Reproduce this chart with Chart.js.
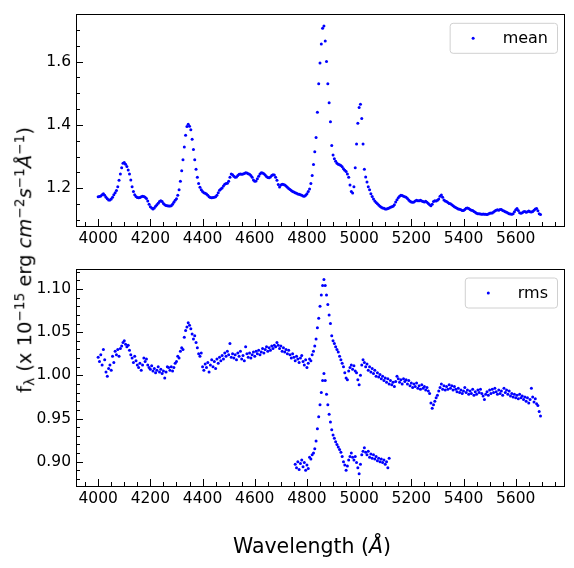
<!DOCTYPE html>
<html>
<head>
<meta charset="utf-8">
<script src="https://cdn.jsdelivr.net/npm/chart.js@4.4.1/dist/chart.umd.min.js"></script>
<style>
  body { margin: 0; background: #fff; font-family: "DejaVu Sans", sans-serif; }
  #wrap { position: relative; width: 574px; height: 568px; }
  canvas { position: absolute; left: 0; }
  #ylab { position: absolute; left: 25px; top: 260px; transform: translate(-50%, -50%) rotate(-90deg);
          white-space: nowrap; font-size: 19.5px; line-height: 1; }
  #xlab { position: absolute; left: 312px; top: 546px; transform: translate(-50%, -50%);
          white-space: nowrap; font-size: 20.5px; line-height: 1; }
  sub, sup { font-size: 70%; line-height: 0; }
  sup { vertical-align: 0.55em; }
  sub { vertical-align: -0.25em; }
</style>
</head>
<body>
<div id="wrap">
  <canvas id="meanChart" width="574" height="250" style="top:0"></canvas>
  <canvas id="rmsChart" width="574" height="318" style="top:250px"></canvas>
  <div id="ylab">f<sub>λ</sub> (x 10<sup>−15</sup> erg <i>cm</i><sup>−2</sup><i>s</i><sup>−1</sup><i>Å</i><sup>−1</sup>)</div>
  <div id="xlab">Wavelength (<i>Å</i>)</div>
</div>
<script>
// wavelength grid of the readings (Angstrom)
const waveStart = 4000;
const waveStep = 5;

// mean spectrum, 4000..5695
const meanFlux = [
  1.173,1.174,1.176,1.180,1.183,1.178,1.172,1.167,1.163,1.163,
  1.166,1.172,1.180,1.186,1.193,1.205,1.225,1.245,1.265,1.279,
  1.281,1.276,1.269,1.258,1.245,1.226,1.205,1.190,1.180,1.174,
  1.171,1.170,1.171,1.173,1.175,1.174,1.172,1.168,1.160,1.150,
  1.142,1.138,1.135,1.138,1.143,1.148,1.153,1.158,1.161,1.158,
  1.152,1.148,1.146,1.145,1.144,1.144,1.145,1.150,1.156,1.162,
  1.167,1.178,1.195,1.222,1.255,1.290,1.330,1.367,1.395,1.402,
  1.396,1.385,1.355,1.322,1.290,1.260,1.235,1.215,1.203,1.195,
  1.190,1.186,1.184,1.182,1.178,1.173,1.171,1.170,1.171,1.172,
  1.173,1.178,1.186,1.194,1.198,1.201,1.207,1.213,1.215,1.216,
  1.222,1.235,1.245,1.243,1.238,1.235,1.236,1.240,1.244,1.245,
  1.244,1.245,1.247,1.249,1.248,1.246,1.244,1.240,1.235,1.226,
  1.222,1.223,1.230,1.238,1.245,1.249,1.248,1.246,1.242,1.237,
  1.234,1.233,1.236,1.240,1.243,1.242,1.235,1.225,1.212,1.204,
  1.210,1.213,1.212,1.210,1.207,1.203,1.199,1.196,1.193,1.190,
  1.188,1.186,1.184,1.182,1.181,1.180,1.178,1.176,1.175,1.178,
  1.183,1.190,1.198,1.215,1.240,1.275,1.315,1.360,1.440,1.530,
  1.595,1.655,1.705,1.712,1.665,1.600,1.530,1.470,1.410,1.335,
  1.305,1.293,1.285,1.279,1.276,1.274,1.272,1.268,1.262,1.257,
  1.253,1.245,1.235,1.210,1.190,1.185,1.205,1.265,1.340,1.405,
  1.455,1.465,1.420,1.340,1.260,1.236,1.220,1.205,1.195,1.183,
  1.174,1.166,1.160,1.155,1.151,1.147,1.143,1.140,1.138,1.137,
  1.135,1.135,1.136,1.138,1.140,1.142,1.143,1.148,1.157,1.164,
  1.170,1.175,1.178,1.177,1.175,1.173,1.172,1.168,1.163,1.159,
  1.157,1.156,1.157,1.160,1.162,1.161,1.161,1.162,1.160,1.158,
  1.157,1.159,1.156,1.152,1.148,1.145,1.150,1.158,1.161,1.160,
  1.162,1.166,1.175,1.179,1.172,1.163,1.160,1.158,1.155,1.152,
  1.151,1.148,1.145,1.142,1.139,1.137,1.135,1.134,1.132,1.130,
  1.130,1.133,1.137,1.138,1.136,1.133,1.131,1.130,1.127,1.124,
  1.121,1.120,1.120,1.119,1.118,1.119,1.118,1.118,1.117,1.119,
  1.121,1.122,1.122,1.125,1.128,1.131,1.132,1.131,1.133,1.133,
  1.130,1.128,1.126,1.124,1.122,1.120,1.119,1.118,1.120,1.126,
  1.132,1.136,1.130,1.123,1.121,1.123,1.126,1.127,1.124,1.126,
  1.128,1.126,1.125,1.127,1.131,1.135,1.136,1.129,1.120,1.117
];

// rms spectrum, 4000..5695
const rmsFlux = [
  1.021,1.016,1.024,1.012,1.030,1.018,1.004,0.999,1.008,1.012,
  1.006,1.022,1.015,1.028,1.024,1.030,1.022,1.031,1.034,1.038,
  1.040,1.036,1.033,1.035,1.029,1.024,1.020,1.015,1.022,1.017,
  1.012,1.009,1.014,1.006,1.012,1.020,1.016,1.019,1.012,1.009,
  1.007,1.011,1.005,1.008,1.003,1.006,1.010,1.004,1.007,1.002,
  1.005,0.997,1.004,1.010,1.009,1.006,1.010,1.005,1.009,1.014,
  1.016,1.022,1.020,1.028,1.032,1.030,1.044,1.052,1.056,1.061,
  1.058,1.054,1.048,1.042,1.046,1.038,1.032,1.025,1.022,1.026,
  1.010,1.006,1.013,1.009,1.015,1.004,1.012,1.018,1.010,1.016,
  1.008,1.019,1.014,1.021,1.017,1.023,1.019,1.026,1.022,1.028,
  1.024,1.037,1.021,1.025,1.020,1.024,1.018,1.026,1.022,1.028,
  1.019,1.023,1.017,1.033,1.025,1.021,1.026,1.020,1.024,1.027,
  1.022,1.028,1.025,1.029,1.024,1.027,1.031,1.026,1.030,1.033,
  1.028,1.032,1.029,1.034,1.031,1.035,1.033,1.038,1.035,1.031,
  1.034,1.028,1.032,1.027,1.030,1.025,1.029,1.024,1.020,1.025,
  1.021,1.017,1.022,1.019,1.015,1.020,1.023,1.016,1.012,1.018,
  1.009,1.014,1.019,1.017,1.024,1.028,1.034,1.042,1.055,1.066,
  1.080,1.093,1.104,1.111,1.104,1.093,1.082,1.070,1.060,1.046,
  1.040,1.037,1.033,1.030,1.027,1.022,1.018,1.014,1.010,1.003,
  0.997,0.995,1.005,1.009,1.012,1.007,1.011,1.005,1.003,0.995,
  0.989,1.000,1.012,1.018,1.015,1.010,1.013,1.006,1.010,1.004,
  1.008,1.002,1.006,0.999,1.003,0.998,1.001,0.996,0.999,0.994,
  0.997,0.992,0.996,0.990,0.994,0.989,0.992,0.987,0.993,0.999,
  0.996,0.992,0.995,0.990,0.996,0.993,0.995,0.990,0.994,0.988,
  0.991,0.986,0.990,0.987,0.991,0.985,0.988,0.984,0.989,0.985,
  0.987,0.983,0.986,0.982,0.979,0.968,0.962,0.966,0.970,0.974,
  0.977,0.982,0.986,0.990,0.984,0.988,0.983,0.987,0.984,0.989,
  0.985,0.988,0.983,0.987,0.984,0.981,0.985,0.980,0.983,0.979,
  0.982,0.986,0.980,0.983,0.978,0.982,0.979,0.984,0.977,0.981,
  0.978,0.983,0.980,0.984,0.979,0.976,0.972,0.978,0.981,0.977,
  0.983,0.979,0.984,0.980,0.985,0.981,0.978,0.983,0.979,0.982,
  0.977,0.985,0.980,0.983,0.978,0.982,0.976,0.979,0.975,0.978,
  0.974,0.977,0.973,0.978,0.974,0.976,0.972,0.975,0.970,0.974,
  0.968,0.972,0.985,0.975,0.969,0.973,0.967,0.965,0.958,0.953
];

// lower rms segment, 4755..5115
const rmsLowStart = 4755;
const rmsLowFlux = [
  0.897,0.893,0.900,0.891,0.898,0.902,0.894,0.899,0.890,
  0.896,0.892,0.905,0.903,0.908,0.910,0.915,0.924,0.938,0.952,
  0.966,0.980,0.994,1.002,0.994,0.978,0.966,0.955,0.946,0.937,
  0.931,0.927,0.923,0.920,0.917,0.914,0.911,0.906,0.900,0.896,
  0.890,0.895,0.902,0.906,0.910,0.905,0.902,0.906,0.899,0.893,
  0.886,0.897,0.908,0.912,0.916,0.911,0.908,0.912,0.905,0.909,
  0.904,0.908,0.903,0.906,0.901,0.904,0.900,0.903,0.899,0.902,
  0.897,0.900,0.893,0.904
];

// ticks
const xTicks = [];
for (let w = 3950; w <= 5750; w += 50) xTicks.push(w);
const meanYTicks = [];
for (let i = 22; i <= 34; i++) meanYTicks.push(i / 20);
const rmsYTicks = [];
for (let i = 88; i <= 112; i++) rmsYTicks.push(i / 100);

const toPoints = (start, arr) => arr.map((v, i) => ({ x: start + i * waveStep, y: v }));

const tickFont = { family: 'DejaVu Sans', size: 15.5 };

// inward ticks, full frame and a matplotlib-like legend
const framePlugin = {
  id: 'frame',
  afterDatasetsDraw(chart, args, opts) {
    const ctx = chart.ctx, a = chart.chartArea;
    const xs = chart.scales.x, ys = chart.scales.y;
    ctx.save();
    ctx.strokeStyle = '#000';
    ctx.lineWidth = 1;
    xs.ticks.forEach(t => {
      const px = Math.round(xs.getPixelForValue(t.value)) + 0.5;
      if (px < a.left || px > a.right) return;
      const len = opts.xMajor(t.value) ? 7 : 4;
      ctx.beginPath(); ctx.moveTo(px, a.bottom); ctx.lineTo(px, a.bottom - len); ctx.stroke();
    });
    ys.ticks.forEach(t => {
      const py = Math.round(ys.getPixelForValue(t.value)) + 0.5;
      if (py < a.top || py > a.bottom) return;
      const len = opts.yMajor(t.value) ? 7 : 4;
      ctx.beginPath(); ctx.moveTo(a.left, py); ctx.lineTo(a.left + len, py); ctx.stroke();
    });
    ctx.strokeRect(Math.round(a.left) + 0.5, Math.round(a.top) + 0.5,
                   Math.round(a.right - a.left), Math.round(a.bottom - a.top));

    // legend box
    ctx.font = '16px "DejaVu Sans"';
    const tw = ctx.measureText(opts.label).width;
    const w = 53 + tw + 9, h = 30;
    const bx = a.right - 7 - w, by = a.top + 8.5;
    ctx.beginPath();
    ctx.roundRect(bx + 0.5, by + 0.5, w, h, 3);
    ctx.fillStyle = 'rgba(255,255,255,0.8)';
    ctx.fill();
    ctx.strokeStyle = '#d0d0d0';
    ctx.stroke();
    ctx.fillStyle = '#0000ff';
    ctx.beginPath(); ctx.arc(bx + 23.5, by + h / 2 + 0.5, 1.5, 0, Math.PI * 2); ctx.fill();
    ctx.fillStyle = '#000';
    ctx.textBaseline = 'middle';
    ctx.fillText(opts.label, bx + 53, by + h / 2 + 1);
    ctx.restore();
  }
};

function makeChart(id, datasetLabel, points, yMin, yMax, yTicks, yMajor, yFmt, padTop, xHeight) {
  return new Chart(document.getElementById(id), {
    type: 'scatter',
    data: {
      datasets: [{
        label: datasetLabel,
        data: points,
        backgroundColor: '#0000ff',
        borderWidth: 0,
        pointRadius: 1.5
      }]
    },
    options: {
      responsive: false,
      animation: false,
      devicePixelRatio: 1,
      layout: { padding: { left: 0, right: 10, top: padTop, bottom: 0 } },
      plugins: {
        legend: { display: false },
        tooltip: { enabled: false },
        frame: {
          label: datasetLabel,
          xMajor: v => v % 200 === 0,
          yMajor: yMajor
        }
      },
      scales: {
        x: {
          type: 'linear',
          min: 3915,
          max: 5785,
          grid: { display: false, drawTicks: false },
          border: { display: false },
          afterBuildTicks: s => { s.ticks = xTicks.map(v => ({ value: v })); },
          afterFit: s => { s.height = xHeight; },
          ticks: {
            autoSkip: false,
            maxRotation: 0,
            padding: 4,
            color: '#000',
            font: tickFont,
            callback: v => (v % 200 === 0 ? String(v) : '')
          }
        },
        y: {
          min: yMin,
          max: yMax,
          grid: { display: false, drawTicks: false },
          border: { display: false },
          afterBuildTicks: s => { s.ticks = yTicks.map(v => ({ value: v })); },
          afterFit: s => { s.width = 76; },
          ticks: {
            autoSkip: false,
            padding: 5,
            color: '#000',
            font: tickFont,
            callback: v => (yMajor(v) ? yFmt(v) : '')
          }
        }
      }
    },
    plugins: [framePlugin]
  });
}

makeChart('meanChart', 'mean', toPoints(waveStart, meanFlux),
  1.081, 1.749, meanYTicks,
  v => Math.round(v * 100) % 20 === 0, v => v.toFixed(1), 9, 24);

makeChart('rmsChart', 'rms', toPoints(waveStart, rmsFlux).concat(toPoints(rmsLowStart, rmsLowFlux)),
  0.8718, 1.1232, rmsYTicks,
  v => Math.round(v * 100) % 5 === 0, v => v.toFixed(2), 19, 82);
</script>
</body>
</html>
